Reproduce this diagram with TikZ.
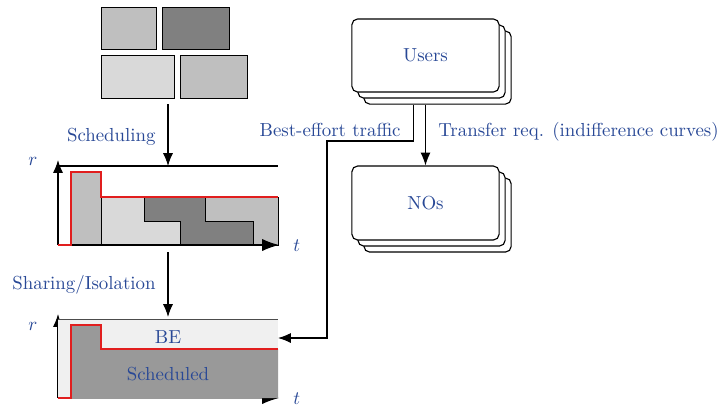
\documentclass[tikz,border=0pt]{standalone}
\usetikzlibrary{arrows.meta,shadows}
\definecolor{txtblue}{RGB}{40,72,150}
\definecolor{gA}{RGB}{191,191,191}
\definecolor{gB}{RGB}{128,128,128}
\definecolor{gC}{RGB}{217,217,217}
\definecolor{gBE}{RGB}{240,240,240}
\definecolor{gS}{RGB}{153,153,153}
\definecolor{redline}{RGB}{225,30,30}
\begin{document}
\begin{tikzpicture}[x=0.53pt,y=-0.53pt,
  lbl/.style={text=txtblue, inner sep=0pt},
  blk/.style={draw=black, line width=0.5pt},
  arr/.style={-{Latex[length=6.8pt,width=5.3pt]}, line width=0.55pt},
  bigarr/.style={-{Latex[length=9pt,width=6.5pt]}, line width=0.55pt},
  red/.style={draw=redline, line width=0.6pt},
  stack/.style={draw, rounded corners=3pt, fill=white, line width=0.6pt,
    minimum width=78pt, minimum height=38.7pt, text=txtblue,
    double copy shadow={shadow xshift=3.2pt, shadow yshift=-3.2pt}}]
\useasboundingbox (0,0) rectangle (721,405);

% task blocks
\path[blk, fill=gA] (101,7) rectangle (156,49);
\path[blk, fill=gB] (162,7) rectangle (229,49);
\path[blk, fill=gC] (101,55) rectangle (174,98);
\path[blk, fill=gA] (180,55) rectangle (247,98);
\coordinate (blocksOut) at (168,104);

% chart 1
\coordinate (c1top) at (168,166);
\draw[line width=0.55pt] (58,166) -- (278,166);
\path[blk, fill=gA] (71,172) rectangle (101,245);
\path[blk, fill=gC] (101,197) -- (144,197) -- (144,221) -- (180,221) -- (180,245) -- (101,245) -- cycle;
\path[blk, fill=gB] (144,197) -- (205,197) -- (205,221) -- (253,221) -- (253,245) -- (180,245) -- (180,221) -- (144,221) -- cycle;
\path[blk, fill=gA] (205,197) -- (278,197) -- (278,245) -- (253,245) -- (253,221) -- (205,221) -- cycle;
\draw[arr] (58,245) -- (58,160);
\draw[bigarr] (58,245) -- (279,245);
\draw[red] (58,245) -- (71,245) -- (71,172) -- (101,172) -- (101,197) -- (278,197);
\node[lbl, anchor=base] (r1) at (33,165) {$r$};
\node[lbl, anchor=base west] (t1) at (293,251) {$t$};
\coordinate (c1bot) at (168,252);

\draw[arr] (blocksOut) -- (c1top);
\node[lbl, anchor=base east] (sched) at (156,141.5) {Scheduling};

% chart 2
\coordinate (c2top) at (168,317);
\draw[arr] (58,398) -- (58,314);
\draw[bigarr] (58,398) -- (279,398);
\path[fill=gBE] (58,319) rectangle (278,398);
\draw[line width=0.5pt, draw=black!70] (58,319) -- (278,319);
\path[fill=gS] (71,398) -- (71,325) -- (101,325) -- (101,349) -- (278,349) -- (278,398) -- cycle;
\draw[line width=0.5pt, draw=black!40] (58,398) -- (262,398);
\draw[red] (58,398) -- (71,398) -- (71,325) -- (101,325) -- (101,349) -- (278,349);
\node[lbl] (be) at (168,337) {BE};
\node[lbl] (schd) at (168,374) {Scheduled};
\node[lbl, anchor=base] (r2) at (33,330) {$r$};
\node[lbl, anchor=base west] (t2) at (293,404) {$t$};
\coordinate (beIn) at (278,338);

\draw[arr] (c1bot) -- (c2top);
\node[lbl, anchor=base east] (share) at (156,289) {Sharing/Isolation};

% users and NOs
\node[stack] (users) at (425.5,55.5) {Users};
\node[stack, minimum height=39.2pt] (nos) at (425.5,203) {NOs};

\draw[arr] ([yshift=-6.4pt]users.south) -- (nos.north);
\coordinate (beTurn) at (327,141);
\draw[arr] ([xshift=-6.6pt,yshift=-6.4pt]users.south) |- (beTurn) |- (beIn);
\node[lbl, anchor=base east] (betxt) at (401,136) {Best-effort traffic};
\node[lbl, anchor=base west] (trtxt) at (438,136) {Transfer req. (indifference curves)};
\end{tikzpicture}
\end{document}
